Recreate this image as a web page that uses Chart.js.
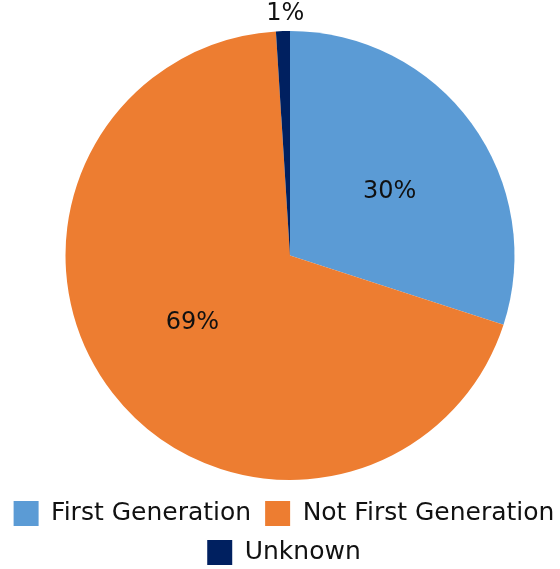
<!DOCTYPE html>
<html>
<head>
<meta charset="utf-8">
<script src="https://cdn.jsdelivr.net/npm/chart.js@4.4.0/dist/chart.umd.min.js"></script>
<style>
  html, body { margin: 0; padding: 0; background: #fff; }
  #wrap { width: 560px; height: 569px; }
</style>
</head>
<body>
<div id="wrap"><canvas id="pieChart"></canvas></div>
<script>
const categories = ["First Generation", "Not First Generation", "Unknown"];
const shares = [30, 69, 1];
const sliceColors = ["#5B9BD5", "#ED7D31", "#002060"];

const FONT = "'DejaVu Sans', sans-serif";

// percent labels: inside for big slices, just outside for tiny ones
const sliceLabels = {
  id: "sliceLabels",
  afterLayout(chart) {
    // put the legend back under the middle of the canvas (approx 284)
    const lg = chart.legend;
    const shift = (lg.left + lg.right) / 2 - 284;
    lg.left -= shift;
    lg.right -= shift;
  },
  afterDatasetsDraw(chart) {
    const ctx = chart.ctx;
    const meta = chart.getDatasetMeta(0);
    ctx.save();
    ctx.fillStyle = "#111";
    ctx.font = "24px " + FONT;
    ctx.textAlign = "center";
    ctx.textBaseline = "middle";
    meta.data.forEach((arc, i) => {
      const p = arc.getProps(["x", "y", "startAngle", "endAngle", "outerRadius"], true);
      const outside = shares[i] < 5;
      // labels sit a touch clockwise of the slice middle, like the original
      const mid = (p.startAngle + p.endAngle) / 2 + (outside ? 0.012 : 0.06);
      const dist = outside ? p.outerRadius + 17 : p.outerRadius * 0.527;
      ctx.fillText(shares[i] + "%", p.x + Math.cos(mid) * dist, p.y + Math.sin(mid) * dist);
    });
    ctx.restore();
  }
};

new Chart(document.getElementById("pieChart"), {
  type: "pie",
  data: {
    labels: categories,
    datasets: [
      {
        data: shares,
        backgroundColor: sliceColors,
        borderWidth: 0,
      },
    ],
  },
  options: {
    responsive: true,
    maintainAspectRatio: false,
    animation: false,
    layout: { padding: { top: 31, left: 20, right: -32, bottom: -6 } },
    plugins: {
      tooltip: { enabled: false },
      legend: {
        position: "bottom",
        title: { display: true, text: "", padding: 0, font: { size: 7, lineHeight: 1 } },
        labels: {
          boxWidth: 25,
          boxHeight: 25,
          padding: 14,
          color: "#111",
          font: { family: FONT, size: 25 },
        },
      },
    },
  },
  plugins: [sliceLabels],
});
</script>
</body>
</html>
